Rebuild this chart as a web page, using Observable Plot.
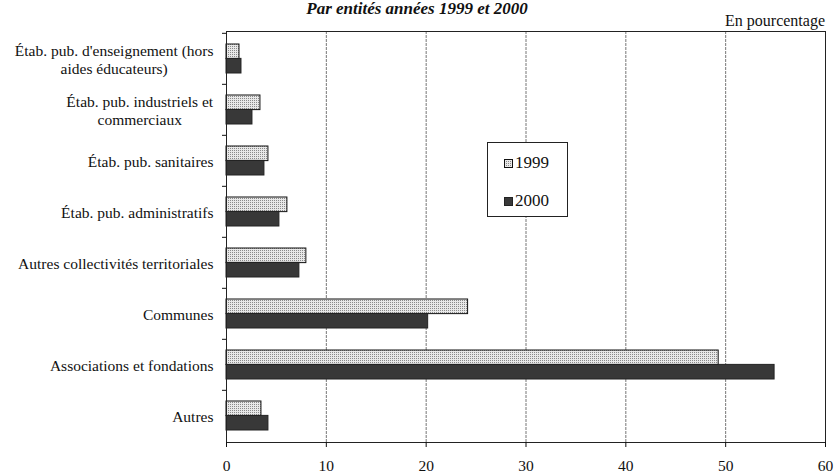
<!DOCTYPE html>
<html>
<head>
<meta charset="utf-8">
<script src="https://cdn.jsdelivr.net/npm/d3@7"></script>
<script src="https://cdn.jsdelivr.net/npm/@observablehq/plot@0.6"></script>
<style>
  body { margin: 0; background: #fff; font-family: "Liberation Serif", "Times New Roman", serif; color: #111; }
  #wrap { position: relative; width: 834px; height: 476px; overflow: hidden; }
  #chart { position: absolute; left: 0; top: 0; }
  #title { position: absolute; left: 0; width: 834px; top: 0px; text-align: center;
           font: italic bold 17px/17px "Liberation Serif", serif; }
  #unit { position: absolute; right: 9px; top: 12px; font-size: 16px; line-height: 18px; }
  #legend { position: absolute; left: 487px; top: 142px; width: 79px; height: 73px;
            border: 1px solid #222; background: #fff; }
  .item { position: absolute; left: 16px; height: 20px; display: flex; align-items: center;
          font-size: 17px; line-height: 20px; }
  .item svg { margin-right: 2px; }
</style>
</head>
<body>
<div id="wrap">
  <div id="chart"></div>
  <div id="title">Par entités années 1999 et 2000</div>
  <div id="unit">En pourcentage</div>
  <div id="legend"></div>
</div>
<script>
// ---- data ----
const categories = [
  "Étab. pub. d'enseignement (hors\naides éducateurs)",
  "Étab. pub. industriels et\ncommerciaux",
  "Étab. pub. sanitaires",
  "Étab. pub. administratifs",
  "Autres collectivités territoriales",
  "Communes",
  "Associations et fondations",
  "Autres"
];
const years = ["1999", "2000"];
const values1999 = [1.3, 3.4, 4.2, 6.1, 8.0, 24.2, 49.3, 3.5];
const values2000 = [1.5, 2.6, 3.8, 5.3, 7.3, 20.2, 54.9, 4.2];
const xTicks = [0, 10, 20, 30, 40, 50, 60];
const gridTicks = [10, 20, 30, 40, 50];

const rows1999 = categories.map((c, i) => ({cat: c, year: years[0], value: values1999[i]}));
const rows2000 = categories.map((c, i) => ({cat: c, year: years[1], value: values2000[i]}));

// ---- layout ----
const W = 834, H = 476, mt = 31, mb = 34, ml = 226, mr = 9;
const step = (H - mt - mb) / categories.length;
const pin = 0.44;
const bw = step * (1 - pin);

const plot = Plot.plot({
  width: W, height: H,
  marginTop: mt, marginBottom: mb, marginLeft: ml, marginRight: mr,
  style: {fontFamily: "'Liberation Serif', 'Times New Roman', serif", fontSize: "15.5px", color: "#111", background: "transparent"},
  x: {domain: [0, 60], ticks: xTicks, label: null},
  y: {domain: categories, paddingInner: pin, paddingOuter: pin / 2, label: null},
  marks: [
    Plot.ruleX(gridTicks, {stroke: "#777", strokeWidth: 1, strokeDasharray: "3,1"}),
    Plot.barX(rows1999, {x: "value", y: "cat", fill: "url(#dots)", stroke: "#111", strokeWidth: 1, insetBottom: bw / 2}),
    Plot.barX(rows2000, {x: "value", y: "cat", fill: "#383838", stroke: "#222", strokeWidth: 1, insetTop: bw / 2}),
    Plot.frame({stroke: "#222"}),
    Plot.axisX({ticks: xTicks, tickSize: 5, tickPadding: 12, label: null}),
    Plot.axisY({tickSize: 0, tickPadding: 13, label: null, lineHeight: 1.2}),
    Plot.axisY({text: null, tickSize: 4, dy: -step / 2, label: null})
  ]
});

// dotted pattern for 1999 bars
const defs = d3.select(plot).insert("defs", ":first-child");
const pat = defs.append("pattern").attr("id", "dots").attr("width", 2).attr("height", 2)
  .attr("patternUnits", "userSpaceOnUse");
pat.append("rect").attr("width", 2).attr("height", 2).attr("fill", "#e8e8e8");
pat.append("rect").attr("width", 1).attr("height", 1).attr("fill", "#8a8a8a");

document.getElementById("chart").appendChild(plot);

// center the two-line category labels like the original
d3.select(plot).selectAll("text").each(function() {
  const tspans = this.querySelectorAll("tspan");
  if (tspans.length > 1) {
    const w = this.getBBox().width;
    this.setAttribute("text-anchor", "middle");
    const t = this.getAttribute("transform") || "";
    this.setAttribute("transform", t + ` translate(${-w / 2},0)`);
  }
});

// legend
const legend = document.getElementById("legend");
[[years[0], "url(#dots)", "#111"], [years[1], "#383838", "#222"]].forEach(([y, f, s], i) => {
  const div = document.createElement("div");
  div.className = "item";
  div.style.top = (i === 0 ? 10 : 48) + "px";
  div.innerHTML = `<svg width="9" height="9"><rect x="0.5" y="0.5" width="8" height="8" fill="${f}" stroke="${s}"/></svg><span>${y}</span>`;
  legend.appendChild(div);
});
</script>
</body>
</html>
